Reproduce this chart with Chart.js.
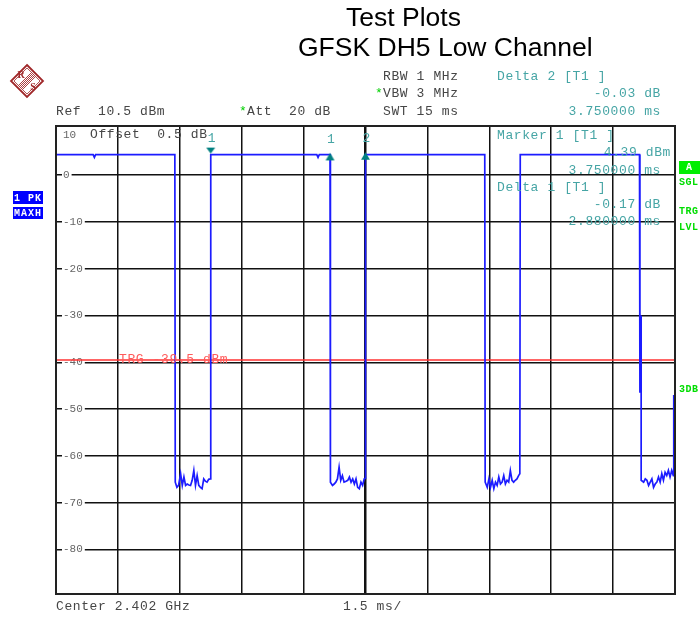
<!DOCTYPE html>
<html><head><meta charset="utf-8">
<script src="https://cdn.jsdelivr.net/npm/chart.js@4.4.1/dist/chart.umd.min.js"></script>
<style>html,body{margin:0;padding:0;background:#fff;}canvas{display:block;}</style>
</head><body>
<canvas id="c" width="700" height="617" style="width:700px;height:617px"></canvas>
<script>
// ---- data ----
const refLevel = 10.5;          // dBm (top of screen)
const levelRange = 100;         // dB over 10 divisions
const sweepTime = 15;           // ms
const xGridTimes = [0, 1.5, 3, 4.5, 6, 7.5, 9, 10.5, 12, 13.5, 15];
const yTickValues = [0, -10, -20, -30, -40, -50, -60, -70, -80];

const traceTimes = [
  0, 0.90, 0.93, 0.96, 2.88, 2.89,
  2.93, 2.97, 3.02, 3.06, 3.10, 3.14, 3.18, 3.22, 3.26, 3.30, 3.34, 3.38, 3.42, 3.46, 3.50, 3.54, 3.58, 3.62, 3.66, 3.70, 3.74,
  3.75, 6.32, 6.35, 6.38, 6.64, 6.65,
  6.70, 6.74, 6.78, 6.82, 6.86, 6.90, 6.94, 6.98, 7.03, 7.07, 7.11, 7.15, 7.19, 7.23, 7.27, 7.31, 7.35, 7.39, 7.43, 7.47, 7.49,
  7.50, 10.39, 10.40,
  10.45, 10.49, 10.53, 10.57, 10.61, 10.65, 10.69, 10.73, 10.77, 10.81, 10.85, 10.89, 10.93, 10.97, 11.01, 11.05, 11.09, 11.13, 11.17, 11.21, 11.24,
  11.25, 14.14, 14.15, 14.18, 14.18,
  14.24, 14.28, 14.32, 14.36, 14.40, 14.44, 14.48, 14.52, 14.56, 14.60, 14.64, 14.68, 14.72, 14.76, 14.80, 14.84, 14.88, 14.92, 14.96, 14.97, 14.97
];
const traceLevels = [
  4.39, 4.39, 3.8, 4.39, 4.39, -65.6,
  -66.7, -66.3, -63.8, -66.3, -64.5, -66.3, -66.0, -66.2, -66.3, -65.2, -63.1, -66.3, -64.2, -66.3, -66.7, -67.0, -64.9, -65.4, -65.6, -65.0, -64.9,
  4.39, 4.39, 3.8, 4.39, 4.39, -65.6,
  -66.3, -66.0, -65.6, -64.9, -62.4, -65.2, -64.2, -65.6, -65.4, -65.2, -64.5, -65.6, -64.9, -66.0, -64.9, -66.7, -67.0, -65.6, -66.3, -64.9, -64.8,
  4.39, 4.39, -65.6,
  -66.7, -64.9, -66.7, -65.2, -67.0, -65.6, -66.3, -64.5, -66.0, -65.6, -64.2, -66.0, -65.2, -65.6, -63.1, -65.2, -65.6, -65.2, -64.9, -64.2, -63.8,
  4.39, 4.39, -46.5, -30.0, -65.2,
  -65.6, -64.9, -65.2, -66.3, -65.6, -64.9, -66.7, -66.0, -65.6, -64.5, -65.6, -63.8, -65.2, -63.5, -64.2, -63.1, -64.5, -63.1, -64.2, -63.5, -47.0
];

const markerTimes = [3.75, 6.64, 7.50];
const markerLevels = [4.39, 4.22, 4.36];
const markerLabels = ['1', '1', '2'];
const triggerLevel = -39.5;

// ---- styles ----
const MONO = '"Liberation Mono", "DejaVu Sans Mono", monospace';
const TEAL = 'rgb(70,165,165)';
const GREY = 'rgb(70,70,70)';

function triCanvas(down) {
  const c = document.createElement('canvas');
  c.width = 11; c.height = 22;
  const g = c.getContext('2d');
  g.fillStyle = '#008080';
  g.beginPath();
  if (down) { g.moveTo(1, 4); g.lineTo(10, 4); g.lineTo(5.5, 10); }
  else { g.moveTo(5.5, 8.5); g.lineTo(10, 16); g.lineTo(1, 16); }
  g.closePath(); g.fill();
  return c;
}
const downTri = triCanvas(true), upTri = triCanvas(false);

function txt(ctx, s, x, y, color, font, align, ls) {
  ctx.font = font;
  ctx.fillStyle = color;
  ctx.textAlign = align || 'left';
  ctx.textBaseline = 'middle';
  try { ctx.letterSpacing = ls || '0px'; } catch (e) {}
  ctx.fillText(s, x, y);
}

function drawLogo(ctx) {
  const cx = 27, cy = 81, r = 16;
  const col = '#a0282a';
  ctx.save();
  ctx.strokeStyle = col; ctx.lineWidth = 1.8;
  const dia = (rr) => { ctx.beginPath(); ctx.moveTo(cx, cy - rr); ctx.lineTo(cx + rr, cy); ctx.lineTo(cx, cy + rr); ctx.lineTo(cx - rr, cy); ctx.closePath(); };
  dia(r); ctx.stroke();
  ctx.lineWidth = 0.8; dia(r - 3); ctx.stroke();
  ctx.save(); dia(r - 3); ctx.clip();
  ctx.lineWidth = 0.9;
  for (let off = -4; off <= 4; off += 2) {
    ctx.beginPath(); ctx.moveTo(cx - 20, cy + 20 + off); ctx.lineTo(cx + 20, cy - 20 + off); ctx.stroke();
  }
  ctx.restore();
  ctx.fillStyle = col; ctx.font = 'bold 10px "Liberation Serif", serif';
  ctx.textAlign = 'center'; ctx.textBaseline = 'middle';
  ctx.fillText('R', 21, 75); ctx.fillText('S', 33, 87);
  ctx.restore();
}

const overlay = {
  id: 'overlay',
  afterDraw(chart) {
    const { ctx, chartArea: a, scales } = chart;
    const xs = scales.x, ys = scales.y;
    ctx.save();
    // frame
    ctx.strokeStyle = '#222'; ctx.lineWidth = 2;
    ctx.strokeRect(a.left, a.top, a.right - a.left, a.bottom - a.top);

    // titles
    txt(ctx, 'Test Plots', 346, 19, '#000', '26.5px "Liberation Sans", Arial, sans-serif');
    txt(ctx, 'GFSK DH5 Low Channel', 298, 49, '#000', '26.5px "Liberation Sans", Arial, sans-serif');

    drawLogo(ctx);

    const F = '13px ' + MONO, LS = '0.6px';
    txt(ctx, 'RBW 1 MHz', 383, 77, GREY, F, 'left', LS);
    txt(ctx, '*', 375, 94, '#00d000', F, 'left', LS);
    txt(ctx, 'VBW 3 MHz', 383, 94, GREY, F, 'left', LS);
    txt(ctx, 'SWT 15 ms', 383, 112, GREY, F, 'left', LS);
    txt(ctx, 'Ref  10.5 dBm', 56, 112, GREY, F, 'left', LS);
    txt(ctx, '*', 239, 112, '#00d000', F, 'left', LS);
    txt(ctx, 'Att  20 dB', 247, 112, GREY, F, 'left', LS);
    txt(ctx, 'Delta 2 [T1 ]', 497, 77, TEAL, F, 'left', LS);
    txt(ctx, '-0.03 dB', 661, 94, TEAL, F, 'right', LS);
    txt(ctx, '3.750000 ms', 661, 112, TEAL, F, 'right', LS);

    // inside plot
    txt(ctx, '10', 63, 135, '#666', '11px ' + MONO);
    txt(ctx, 'Offset  0.5 dB', 90, 135, GREY, F, 'left', LS);
    txt(ctx, 'Marker 1 [T1 ]', 497, 136, TEAL, F, 'left', LS);
    txt(ctx, '4.39 dBm', 671, 153, TEAL, F, 'right', LS);
    txt(ctx, '3.750000 ms', 661, 171, TEAL, F, 'right', LS);
    txt(ctx, 'Delta 1 [T1 ]', 497, 188, TEAL, F, 'left', LS);
    txt(ctx, '-0.17 dB', 661, 205, TEAL, F, 'right', LS);
    txt(ctx, '2.880000 ms', 661, 222, TEAL, F, 'right', LS);
    txt(ctx, 'TRG -39.5 dBm', 119, ys.getPixelForValue(triggerLevel), 'rgb(255,90,90)', F, 'left', LS);

    // marker numbers
    markerTimes.forEach((t, i) => {
      txt(ctx, markerLabels[i], xs.getPixelForValue(t) + 1, ys.getPixelForValue(markerLevels[i]) - 16, TEAL, F, 'center', '0px');
    });

    // left blue status boxes
    ctx.fillStyle = '#0000ff';
    ctx.fillRect(13, 191, 30, 13);
    ctx.fillRect(13, 207, 30, 12);
    const B = 'bold 10px ' + MONO;
    txt(ctx, '1 PK', 14, 198, '#fff', B, 'left', '1px');
    txt(ctx, 'MAXH', 14, 213, '#fff', B, 'left', '1px');

    // right green annotations
    ctx.fillStyle = '#00ee00';
    ctx.fillRect(679, 161, 21, 13);
    const G = 'bold 10px ' + MONO;
    txt(ctx, 'A', 689, 167.5, '#fff', G, 'center', '0px');
    txt(ctx, 'SGL', 679, 182, '#00dd00', G, 'left', '0.5px');
    txt(ctx, 'TRG', 679, 211, '#00dd00', G, 'left', '0.5px');
    txt(ctx, 'LVL', 679, 227, '#00dd00', G, 'left', '0.5px');
    txt(ctx, '3DB', 679, 389, '#00dd00', G, 'left', '0.5px');

    // bottom annotations
    txt(ctx, 'Center 2.402 GHz', 56, 607, GREY, F, 'left', LS);
    txt(ctx, '1.5 ms/', 343, 607, GREY, F, 'left', LS);
    ctx.restore();
  }
};

const ctx = document.getElementById('c').getContext('2d');
new Chart(ctx, {
  type: 'scatter',
  data: {
    datasets: [
      {
        label: 'markers',
        data: markerTimes.map((t, i) => ({ x: t, y: markerLevels[i] })),
        pointStyle: (c) => c.dataIndex === 0 ? downTri : upTri,
        pointRadius: 5,
        order: 0
      },
      {
        label: 'trace',
        data: traceTimes.map((t, i) => ({ x: t, y: traceLevels[i] })),
        showLine: true,
        borderColor: '#1c1cff',
        borderWidth: 1.7,
        pointRadius: 0,
        tension: 0,
        order: 1
      },
      {
        label: 'trigger',
        data: [{ x: 0, y: triggerLevel }, { x: sweepTime, y: triggerLevel }],
        showLine: true,
        borderColor: 'rgb(255,50,50)',
        borderWidth: 1.5,
        pointRadius: 0,
        order: 2
      }
    ]
  },
  options: {
    responsive: false,
    animation: false,
    devicePixelRatio: 1,
    layout: { padding: { left: 56, right: 25, top: 126, bottom: 23 } },
    plugins: { legend: { display: false }, tooltip: { enabled: false }, title: { display: false } },
    scales: {
      x: {
        type: 'linear', min: 0, max: sweepTime,
        afterBuildTicks: (s) => { s.ticks = xGridTimes.map(v => ({ value: v })); },
        afterFit: (s) => { s.height = 0; },
        ticks: { display: false },
        grid: { color: '#111', lineWidth: (c) => (c.tick && c.tick.value === 7.5) ? 2.5 : 1.5, drawTicks: false },
        border: { display: false }
      },
      y: {
        type: 'linear', min: refLevel - levelRange, max: refLevel,
        afterBuildTicks: (s) => { s.ticks = yTickValues.map(v => ({ value: v })); },
        afterFit: (s) => { s.width = 0; },
        ticks: {
          mirror: true, padding: 7, color: '#666',
          font: { family: 'Liberation Mono', size: 11 },
          callback: (v) => String(v),
          showLabelBackdrop: true, backdropColor: '#fff',
          backdropPadding: { top: 0, bottom: 0, left: 1, right: 2 }
        },
        grid: { color: '#111', lineWidth: 1.5, drawTicks: false },
        border: { display: false }
      }
    }
  },
  plugins: [overlay]
});
</script>
</body></html>
